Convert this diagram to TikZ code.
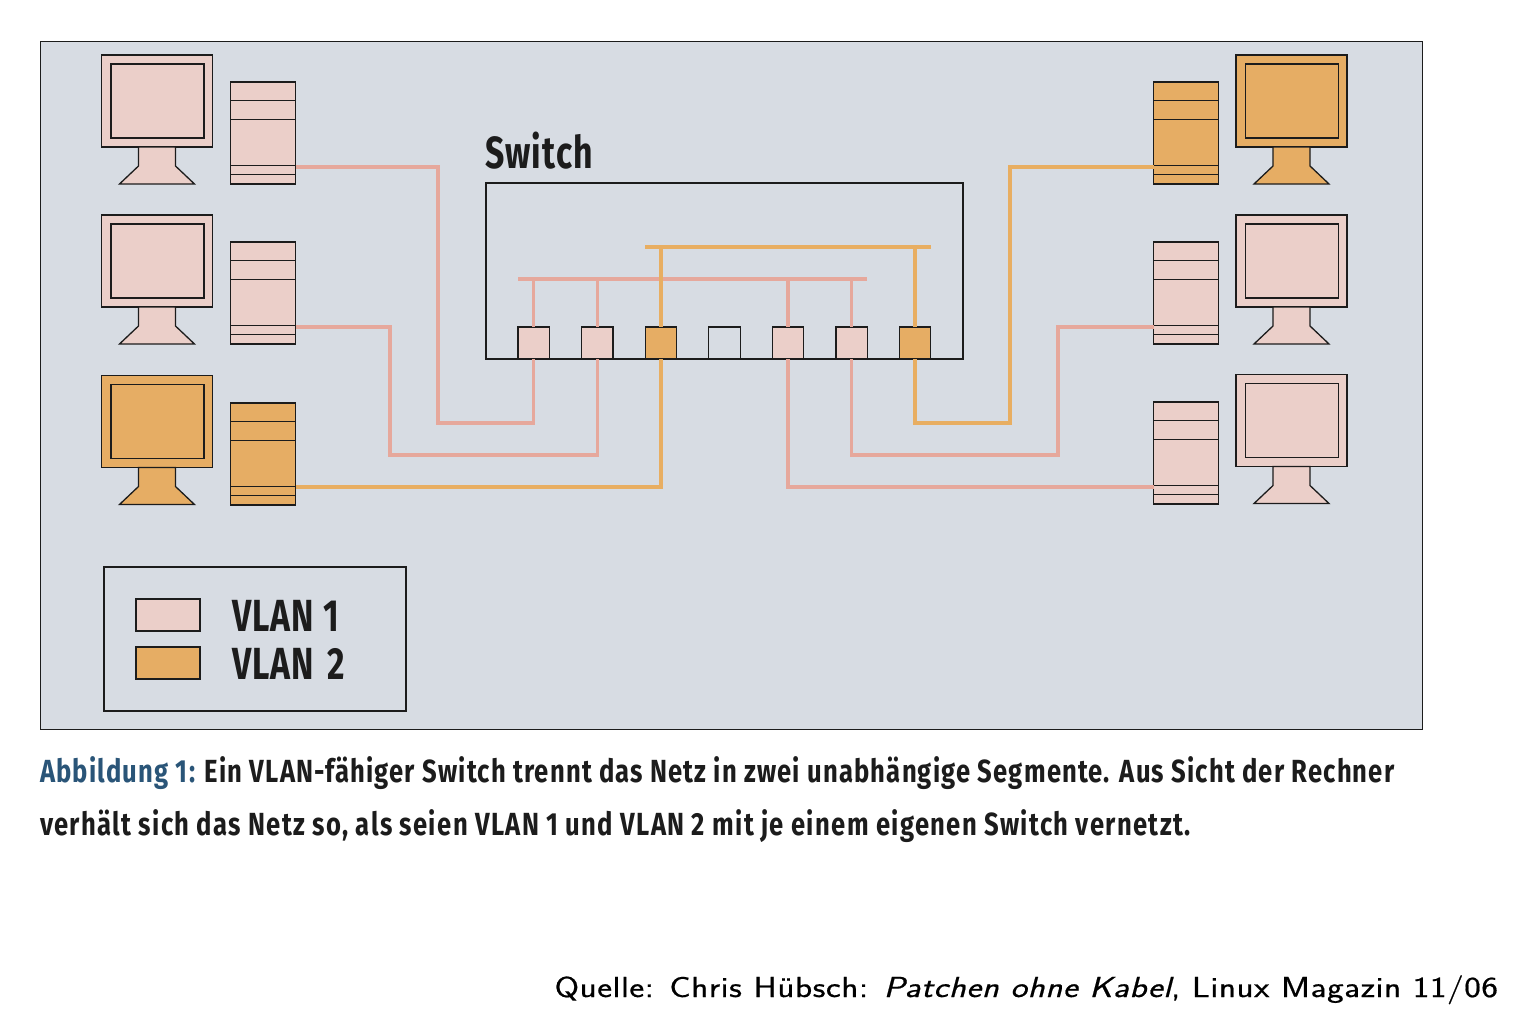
\documentclass[tikz,border=0pt]{standalone}
\usepackage{fontspec}
\newfontfamily\capfont[FakeStretch=0.8,LetterSpace=4.2]{Fira Sans Bold}
\newfontfamily\capfonta[FakeStretch=0.8,LetterSpace=3.7]{Fira Sans Bold}
\newfontfamily\headfont[FakeStretch=0.75,LetterSpace=2.5]{Fira Sans Bold}
\newfontfamily\srcfont[FakeStretch=1.22,LetterSpace=1.8,FakeBold=0.6]{Latin Modern Sans}
\usetikzlibrary{calc}
\definecolor{bgc}{HTML}{D7DCE3}
\definecolor{vone}{HTML}{EBCFC9}
\definecolor{vtwo}{HTML}{E6AD64}
\definecolor{lone}{HTML}{E6A89C}
\definecolor{ltwo}{HTML}{E8AE62}
\definecolor{ink}{HTML}{1C1C1C}
\definecolor{capblue}{HTML}{2A5578}
\tikzset{
  box/.style={draw=ink,line width=1.3pt,inner sep=0,outer sep=0,rectangle},
  portbox/.style={box,minimum width=31.5pt,minimum height=32pt},
  towerbox/.style={box,minimum width=65pt,minimum height=102pt},
  screenbox/.style={box,minimum width=111pt,minimum height=92pt},
  innerbox/.style={box,minimum width=93pt,minimum height=74pt},
  swatch/.style={box,minimum width=64pt,minimum height=32pt},
  wireone/.style={draw=lone,line width=3.2pt},
  wiretwo/.style={draw=ltwo,line width=3.2pt},
  labeltext/.style={inner sep=0,outer sep=0,anchor=base west,text=ink}
}
% name, centre x, top y, colour
\newcommand{\monitorat}[4]{%
  \node[screenbox,fill=#4] (#1) at (#2,#3+46) {};
  \node[innerbox] (#1i) at (#2+0.5,#3+46) {};
  \draw[draw=ink,line width=1.3pt,fill=#4,line join=miter]
    ($(#1.south)+(-18.5,0)$) -- ++(0,19) -- ++(-19,18) -- ++(75,0) -- ++(-19,-18) -- ++(0,-19) -- cycle;
}
% name, centre x, top y, colour
\newcommand{\towerat}[4]{%
  \node[towerbox,fill=#4] (#1) at (#2,#3+51) {};
  \draw[draw=ink,line width=1.3pt]
    ($(#1.north west)+(0,18.7)$) -- ($(#1.north east)+(0,18.7)$)
    ($(#1.north west)+(0,37.3)$) -- ($(#1.north east)+(0,37.3)$)
    ($(#1.north west)+(0,83.3)$) -- ($(#1.north east)+(0,83.3)$)
    ($(#1.north west)+(0,92.7)$) -- ($(#1.north east)+(0,92.7)$);
}
\begin{document}
\begin{tikzpicture}[x=1pt,y=-1pt]
\useasboundingbox (0,0) rectangle (1514,1020);
\fill[white] (0,0) rectangle (1514,1020);
\draw[draw=ink,line width=1pt,fill=bgc] (40,41) rectangle (1422,729);

\monitorat{m1}{157}{55}{vone}
\monitorat{m2}{157}{215}{vone}
\monitorat{m3}{157}{375.5}{vtwo}
\monitorat{m4}{1291.5}{55}{vtwo}
\monitorat{m5}{1291.5}{215}{vone}
\monitorat{m6}{1291.5}{374.5}{vone}
\towerat{t1}{263}{82}{vone}
\towerat{t2}{263}{242}{vone}
\towerat{t3}{263}{403}{vtwo}
\towerat{t4}{1186}{82}{vtwo}
\towerat{t5}{1186}{242}{vone}
\towerat{t6}{1186}{402}{vone}

% switch
\node[box,minimum width=477pt,minimum height=176pt] (sw) at (724.5,271) {};
\node[labeltext,font=\headfont\fontsize{45}{45}\selectfont] (swl) at (485,168.5) {Switch};

% internal buses
\coordinate (busoneL) at (518,279);
\coordinate (busoneR) at (867,279);
\coordinate (bustwoL) at (645,247);
\coordinate (bustwoR) at (931,247);

% ports
\node[portbox,fill=vone] (p1) at (533.7,343) {};
\node[portbox,fill=vone] (p2) at (597.3,343) {};
\node[portbox,fill=vtwo] (p3) at (661,343) {};
\node[portbox,fill=bgc]  (p4) at (724.5,343) {};
\node[portbox,fill=vone] (p5) at (788,343) {};
\node[portbox,fill=vone] (p6) at (851.7,343) {};
\node[portbox,fill=vtwo] (p7) at (915,343) {};

% tower connection points
\coordinate (t1p) at ($(t1.south east)+(0,-17)$);
\coordinate (t2p) at ($(t2.south east)+(0,-17)$);
\coordinate (t3p) at ($(t3.south east)+(0,-18)$);
\coordinate (t4p) at ($(t4.south west)+(0,-17)$);
\coordinate (t5p) at ($(t5.south west)+(0,-17)$);
\coordinate (t6p) at ($(t6.south west)+(0,-17)$);
\coordinate (k1) at (438,423);
\coordinate (k2) at (390,455);
\coordinate (k4) at (1010,423);
\coordinate (k5) at (1058,455);

% internal wiring
\draw[wireone] (busoneL) -- (busoneR);
\foreach \p in {p1,p2,p5,p6}{\draw[wireone] (\p.north) -- (\p.north |- busoneL);}
\draw[wiretwo] (bustwoL) -- (bustwoR);
\foreach \p in {p3,p7}{\draw[wiretwo] (\p.north) -- (\p.north |- bustwoL);}

% external wiring
\draw[wireone] (t1p) -| (k1) -| (p1.south);
\draw[wireone] (t2p) -| (k2) -| (p2.south);
\draw[wiretwo] (t3p) -| (p3.south);
\draw[wiretwo] (t4p) -| (k4) -| (p7.south);
\draw[wireone] (t5p) -| (k5) -| (p6.south);
\draw[wireone] (t6p) -| (p5.south);

% legend
\node[box,minimum width=302pt,minimum height=144pt] (leg) at (255,639) {};
\node[swatch,fill=vone] (s1) at (168,615) {};
\node[swatch,fill=vtwo] (s2) at (168,663) {};
\node[labeltext,font=\headfont\fontsize{45}{45}\selectfont] (l1) at (232,631.5) {VLAN 1};
\node[labeltext,font=\headfont\fontsize{45}{45}\selectfont] (l2) at (232,679.5) {VLAN\kern4pt{} 2};

% caption
\node[labeltext,font=\capfonta\fontsize{32}{32}\selectfont] (c1) at (40,782) {\textcolor{capblue}{Abbildung 1:} Ein VLAN-fähiger Switch trennt das Netz in zwei unabhängige Segmente. Aus Sicht der Rechner};
\node[labeltext,font=\capfont\fontsize{32}{32}\selectfont] (c2) at (40,835) {verhält sich das Netz so, als seien VLAN 1 und VLAN 2 mit je einem eigenen Switch vernetzt.};
\node[inner sep=0,outer sep=0,anchor=base east,text=black,font=\srcfont\fontsize{29}{29}\selectfont] (src) at (1498,997) {Quelle: Chris Hübsch: \textit{Patchen ohne Kabel}, Linux Magazin 11/06};
\end{tikzpicture}
\end{document}
